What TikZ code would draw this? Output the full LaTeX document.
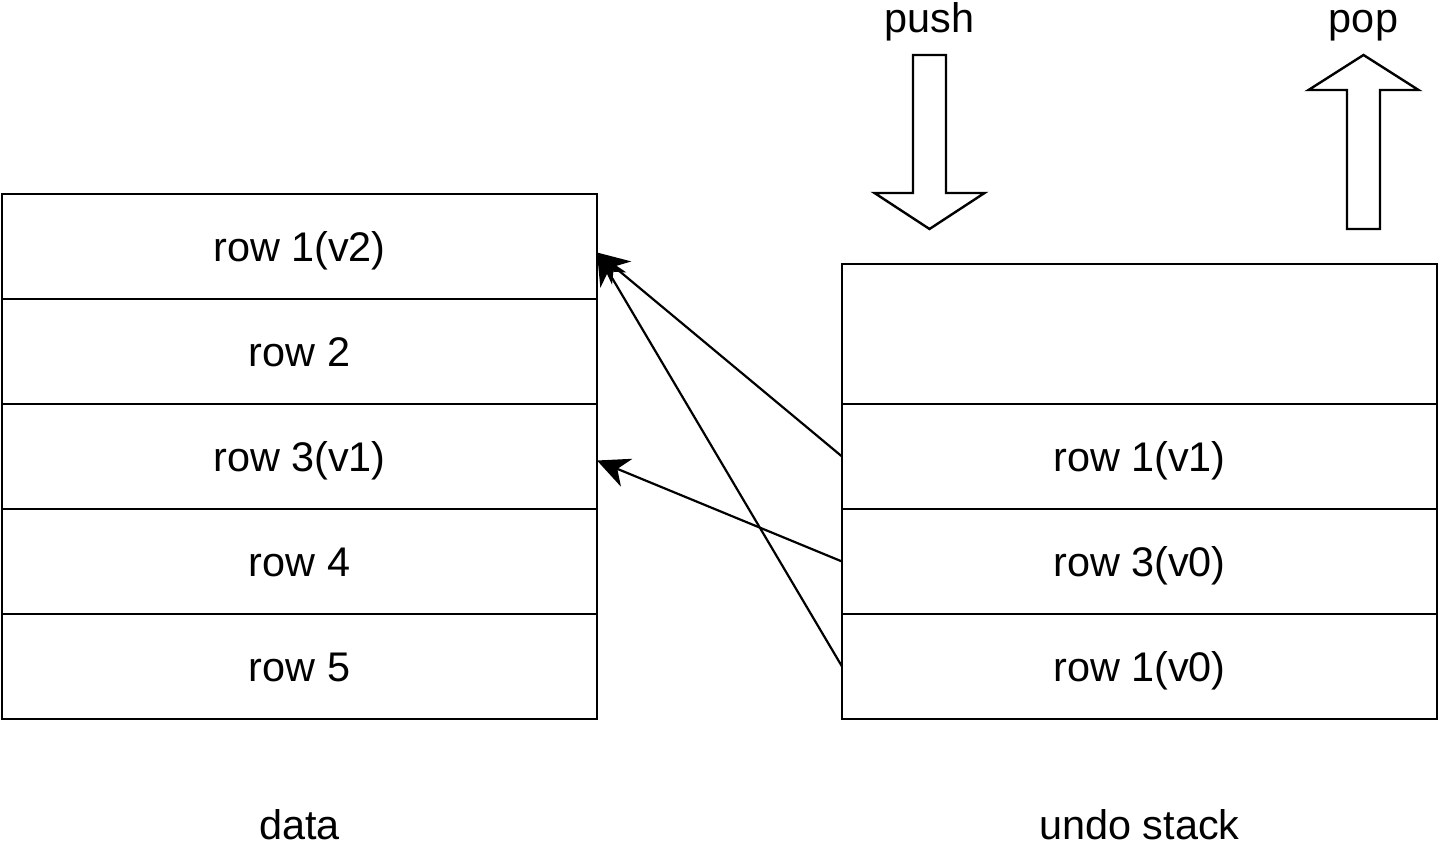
\documentclass[tikz,border=0pt]{standalone}
\usepackage{fontspec}
\setmainfont{Liberation Sans}
\usetikzlibrary{arrows.meta, positioning}

\begin{document}
\begin{tikzpicture}[
    x=0.5pt, y=-0.5pt,
    cell/.style={rectangle, draw, line width=1.2pt, outer sep=0pt, inner sep=0pt,
                 minimum width=297.5pt, minimum height=52.5pt,
                 text height=14.8pt, text depth=0pt,
                 font=\fontsize{20.7}{24}\selectfont},
    lbl/.style={font=\fontsize{20.7}{24}\selectfont},
    arr/.style={-{Stealth[length=16pt, width=15pt, inset=5pt]}, line width=1.1pt},
    fat/.style={draw, line width=1.2pt, fill=white, line join=miter}
  ]
  \useasboundingbox (0,0) rectangle (1440,849);

  % data table
  \node[cell] (d1) at (299.5,246.5) {row 1(v2)};
  \node[cell, below=0pt of d1] (d2) {row 2};
  \node[cell, below=0pt of d2] (d3) {row 3(v1)};
  \node[cell, below=0pt of d3] (d4) {row 4};
  \node[cell, below=0pt of d4] (d5) {row 5};

  % undo stack
  \node[cell, minimum height=70pt] (u0) at (1139.5,334) {};
  \node[cell, below=0pt of u0] (u1) {row 1(v1)};
  \node[cell, below=0pt of u1] (u2) {row 3(v0)};
  \node[cell, below=0pt of u2] (u3) {row 1(v0)};

  \node[lbl] (datalbl)  at (299.5,825)  {data};
  \node[lbl] (stacklbl) at (1139.5,825) {undo stack};

  % push / pop
  \node[lbl, anchor=base] (pushlbl) at (929.5,33)  {push};
  \node[lbl, anchor=base] (poplbl)  at (1363.5,33) {pop};
  \draw[fat] (913,55) -- (946,55) -- (946,193) -- (984.5,193)
    -- (929.5,229) -- (874.5,193) -- (913,193) -- cycle;
  \draw[fat] (1347,229) -- (1380,229) -- (1380,90) -- (1418.5,90)
    -- (1363.5,55) -- (1308.5,90) -- (1347,90) -- cycle;

  % stack entries point back to data rows
  \draw[arr] (u1.west) -- ([yshift=-3pt]d1.east);
  \draw[arr] (u2.west) -- ([yshift=-2pt]d3.east);
  \draw[arr] (u3.west) -- ([yshift=-3pt]d1.east);
\end{tikzpicture}
\end{document}
